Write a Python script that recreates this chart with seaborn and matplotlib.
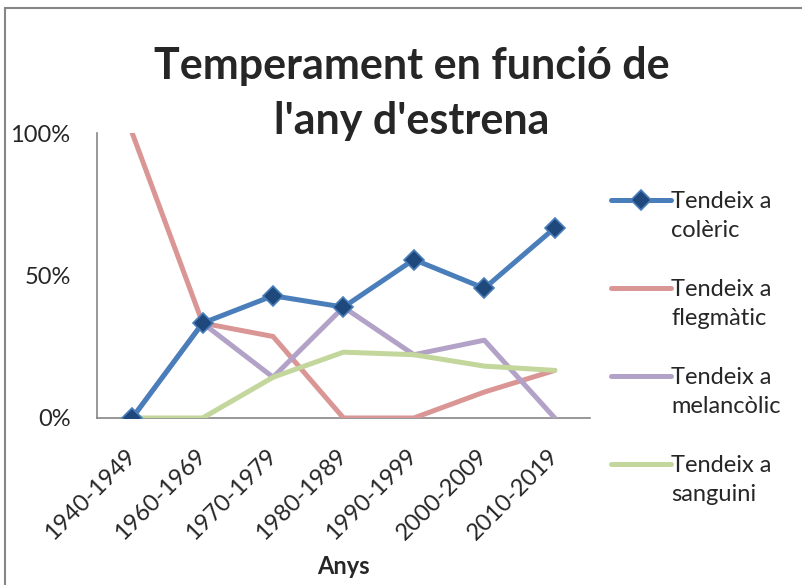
import numpy as np
import pandas as pd
import seaborn as sns
import matplotlib.pyplot as plt
from matplotlib.patches import Rectangle
from matplotlib.ticker import FixedLocator, PercentFormatter
from matplotlib.legend_handler import HandlerLine2D

# data (shares per decade)
decades = ["1940-1949", "1960-1969", "1970-1979", "1980-1989", "1990-1999", "2000-2009", "2010-2019"]
coleric = [0.0, 0.333, 0.429, 0.389, 0.556, 0.455, 0.667]
flegmatic = [1.0, 0.333, 0.286, 0.0, 0.0, 0.091, 0.167]
melancolic = [0.0, 0.333, 0.143, 0.389, 0.222, 0.273, 0.0]
sanguini = [0.0, 0.0, 0.143, 0.231, 0.222, 0.182, 0.167]

series_names = ["Tendeix a\ncolèric", "Tendeix a\nflegmàtic", "Tendeix a\nmelancòlic", "Tendeix a\nsanguini"]
colors = ["#4A7EBB", "#D99694", "#B3A2C7", "#C3D69B"]

df = pd.DataFrame({
    "x": list(range(len(decades))) * 4,
    "val": coleric + flegmatic + melancolic + sanguini,
    "serie": np.repeat(series_names, len(decades)),
})


# legend handle next to the first text line, like Excel does
class RaisedLine(HandlerLine2D):
    def create_artists(self, legend, orig_handle, xdescent, ydescent, width, height, fontsize, trans):
        arts = super().create_artists(legend, orig_handle, xdescent, ydescent, width, height, fontsize, trans)
        for a in arts:
            a.set_ydata(np.asarray(a.get_ydata()) + 0.68 * fontsize)
        return arts


sns.set_style("white")
plt.rcParams["font.family"] = ["Lato", "DejaVu Sans"]

fig = plt.figure(figsize=(8.03, 5.85), dpi=100)
ax = fig.add_axes([0.1208, 0.2855, 0.6139, 0.4871])

for name, col in zip(series_names, colors):
    sub = df[df["serie"] == name]
    if name == series_names[0]:
        sns.lineplot(data=sub, x="x", y="val", ax=ax, color=col, lw=3.6,
                     marker="D", markersize=10, markerfacecolor="#1F497D",
                     markeredgecolor=col, markeredgewidth=1.2, label=name, zorder=5)
    else:
        sns.lineplot(data=sub, x="x", y="val", ax=ax, color=col, lw=3.6,
                     label=name, zorder=3)

ax.set_xlim(-0.5, len(decades) - 0.5)
ax.set_ylim(0, 1)
ax.set_xticks(range(len(decades)))
ax.set_xticklabels(decades, rotation=45, ha="right", va="center", rotation_mode="anchor", fontsize=17)
ax.xaxis.set_minor_locator(FixedLocator(np.arange(-0.5, len(decades), 1.0)))
ax.tick_params(axis="x", which="major", length=0, pad=25)
ax.tick_params(axis="x", which="minor", length=6, width=1, color="#868686", direction="out")
ax.set_yticks([0, 0.5, 1])
ax.yaxis.set_major_formatter(PercentFormatter(1.0, decimals=0))
ax.tick_params(axis="y", length=6, width=1, color="#868686", direction="out", labelsize=17, pad=13)

for s in ["top", "right"]:
    ax.spines[s].set_visible(False)
for s in ["left", "bottom"]:
    ax.spines[s].set_color("#868686")
    ax.spines[s].set_linewidth(1.2)

ax.set_xlabel("Anys", fontsize=17, fontweight="bold", labelpad=8)
ax.set_ylabel("")

fig.text(0.513, 0.84, "Temperament en funció de\nl'any d'estrena", ha="center", va="center",
         fontsize=31, fontweight="bold", linespacing=1.45)

handles, labels = ax.get_legend_handles_labels()
leg = ax.legend(handles, labels, loc="upper left", bbox_to_anchor=(0.749, 0.689),
                bbox_transform=fig.transFigure, frameon=False, fontsize=17,
                handlelength=2.55, handletextpad=0.0, labelspacing=1.62, borderaxespad=0,
                handler_map={h: RaisedLine() for h in handles})
for t in leg.get_texts():
    t.set_linespacing(1.45)

fig.patches.append(Rectangle((5 / 803, -0.1), 1.2, 1 - 8 / 585 + 0.1, transform=fig.transFigure,
                             fill=False, edgecolor="#868686", lw=1.5))

fig.savefig("out.png", dpi=100)
